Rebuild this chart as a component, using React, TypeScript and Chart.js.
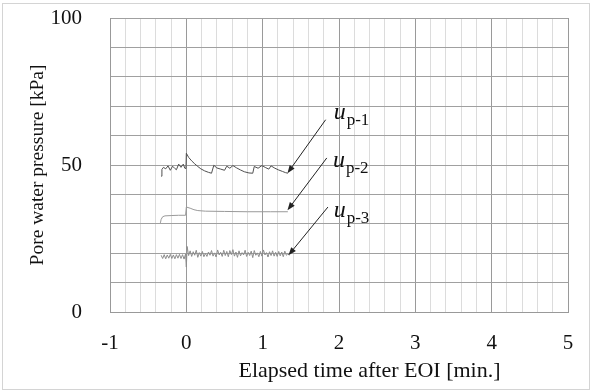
import { useEffect, useRef } from "react";
import { Chart, registerables } from "chart.js";

Chart.register(...registerables);

// Pore water pressure records around the end of injection (EOI)
const up1Time = [
  -0.33, -0.32, -0.3, -0.27, -0.24, -0.21, -0.18, -0.15, -0.13, -0.1, -0.07, -0.04, -0.02, -0.005,
  0.0, 0.03, 0.07, 0.11, 0.15, 0.19, 0.24, 0.29, 0.33, 0.36, 0.4, 0.45, 0.5, 0.53, 0.57, 0.61,
  0.66, 0.71, 0.76, 0.82, 0.87, 0.89, 0.94, 0.99, 1.04, 1.08, 1.11, 1.16, 1.21, 1.26, 1.3, 1.33,
];
const up1Pressure = [
  46.2, 48.5, 49.2, 48.7, 49.7, 48.2, 49.6, 48.8, 48.4, 50.3, 49.2, 50.3, 48.9, 48.8,
  54.0, 52.6, 51.4, 50.4, 49.5, 48.7, 48.0, 47.5, 47.2, 49.9, 49.0, 48.6, 48.2, 49.6, 48.9, 49.8,
  49.0, 48.3, 47.7, 47.3, 47.2, 49.5, 48.9, 49.8, 49.1, 48.6, 49.7, 48.9, 48.3, 47.8, 47.4, 47.2,
];

const up2Time = [-0.34, -0.33, -0.31, -0.28, -0.2, -0.1, -0.01, 0.0, 0.05, 0.1, 0.15, 0.25, 0.5, 0.8, 1.1, 1.33];
const up2Pressure = [30.3, 31.5, 32.4, 32.7, 32.8, 32.9, 32.9, 35.7, 35.3, 34.8, 34.5, 34.3, 34.2, 34.1, 34.1, 34.1];

const up3Time = [
  -0.33, -0.31, -0.29, -0.27, -0.25, -0.23, -0.21, -0.19, -0.17, -0.15, -0.13, -0.11, -0.09, -0.07, -0.05, -0.03, -0.01,
  0.0, 0.01, 0.03, 0.05, 0.07, 0.09, 0.11, 0.13, 0.15, 0.17, 0.19, 0.21, 0.23, 0.25, 0.27, 0.29, 0.31, 0.33, 0.35,
  0.37, 0.39, 0.41, 0.43, 0.45, 0.47, 0.49, 0.51, 0.53, 0.55, 0.57, 0.59, 0.61, 0.63, 0.65, 0.67, 0.69, 0.71, 0.73,
  0.75, 0.77, 0.79, 0.81, 0.83, 0.85, 0.87, 0.89, 0.91, 0.93, 0.95, 0.97, 0.99, 1.01, 1.03, 1.05, 1.07, 1.09, 1.11,
  1.13, 1.15, 1.17, 1.19, 1.21, 1.23, 1.25, 1.27, 1.29, 1.31, 1.33, 1.35,
];
const up3Pressure = [
  19.3, 18.2, 19.5, 18.1, 19.4, 18.3, 19.6, 18.2, 19.4, 18.1, 19.5, 18.3, 19.6, 18.2, 19.5, 18.0, 19.7,
  15.3, 22.3, 19.2, 20.8, 18.9, 20.5, 19.3, 21.0, 18.6, 20.2, 19.0, 20.6, 18.8, 19.9, 18.9, 20.4, 19.3, 20.9, 19.0,
  20.1, 18.7, 21.1, 19.4, 20.3, 18.9, 21.0, 19.2, 20.6, 18.8, 20.9, 19.5, 21.2, 19.0, 20.4, 18.6, 20.8, 19.1, 20.2,
  19.4, 21.0, 18.9, 20.3, 19.2, 20.7, 18.5, 20.9, 19.3, 20.1, 18.8, 20.6, 19.0, 21.1, 19.4, 20.2, 18.7, 20.5, 19.2,
  20.8, 19.0, 20.3, 18.9, 20.6, 19.1, 20.4, 18.8, 20.7, 19.3, 19.8, 19.3,
];

// Callout labels (u_p-1 .. u_p-3) and their leader arrows, in data units
const calloutSubscripts = ["p-1", "p-2", "p-3"];
const calloutLabelX = [1.93, 1.92, 1.93];
const calloutLabelY = [65.7, 49.3, 32.3];
const arrowFromX = [1.825, 1.84, 1.855];
const arrowFromY = [65.4, 52.4, 35.7];
const arrowToX = [1.325, 1.325, 1.338];
const arrowToY = [47.2, 34.6, 19.3];

const xTitle = "Elapsed time after EOI [min.]";
const yTitle = "Pore water pressure [kPa]";

const SERIF = "'Liberation Serif', 'Times New Roman', serif";

const isInteger = (v: number) => Math.abs(v - Math.round(v)) < 1e-6;

const overlayPlugin = {
  id: "overlay",
  beforeDraw(chart: any) {
    const { ctx, width, height } = chart;
    ctx.save();
    ctx.fillStyle = "#ffffff";
    ctx.fillRect(0, 0, width, height);
    ctx.strokeStyle = "#d4d4d4";
    ctx.lineWidth = 1;
    ctx.strokeRect(2.5, 3.5, width - 5, height - 6);
    ctx.restore();
  },
  afterDatasetsDraw(chart: any) {
    const { ctx } = chart;
    const xs = chart.scales.x;
    const ys = chart.scales.y;
    ctx.save();
    for (let i = 0; i < calloutSubscripts.length; i++) {
      const fx = xs.getPixelForValue(arrowFromX[i]);
      const fy = ys.getPixelForValue(arrowFromY[i]);
      const tx = xs.getPixelForValue(arrowToX[i]);
      const ty = ys.getPixelForValue(arrowToY[i]);
      const ang = Math.atan2(ty - fy, tx - fx);
      const head = 8;
      const half = 3;
      ctx.strokeStyle = "#222";
      ctx.lineWidth = 1;
      ctx.beginPath();
      ctx.moveTo(fx, fy);
      ctx.lineTo(tx - Math.cos(ang) * (head - 1), ty - Math.sin(ang) * (head - 1));
      ctx.stroke();
      ctx.fillStyle = "#222";
      ctx.beginPath();
      ctx.moveTo(tx, ty);
      ctx.lineTo(tx - Math.cos(ang) * head - Math.sin(ang) * half, ty - Math.sin(ang) * head + Math.cos(ang) * half);
      ctx.lineTo(tx - Math.cos(ang) * head + Math.sin(ang) * half, ty - Math.sin(ang) * head - Math.cos(ang) * half);
      ctx.closePath();
      ctx.fill();

      const lx = xs.getPixelForValue(calloutLabelX[i]);
      const ly = ys.getPixelForValue(calloutLabelY[i]);
      ctx.fillStyle = "#111";
      ctx.textAlign = "left";
      ctx.textBaseline = "alphabetic";
      ctx.font = `italic 24px ${SERIF}`;
      ctx.fillText("u", lx, ly);
      const w = ctx.measureText("u").width;
      ctx.font = `17px ${SERIF}`;
      ctx.fillText(calloutSubscripts[i], lx + w + 1, ly + 6);
    }
    ctx.restore();
  },
  afterDraw(chart: any) {
    // x-axis caption sits right of the plot centre
    const { ctx } = chart;
    ctx.save();
    ctx.fillStyle = "#111";
    ctx.textBaseline = "alphabetic";
    ctx.textAlign = "center";
    ctx.font = `22px ${SERIF}`;
    ctx.fillText(xTitle, 369.5, 376.5);
    ctx.restore();
  },
};

export default function App() {
  const canvasRef = useRef<HTMLCanvasElement | null>(null);

  useEffect(() => {
    const canvas = canvasRef.current;
    if (!canvas) return;
    const toPoints = (xs: number[], ys: number[]) => xs.map((x, i) => ({ x, y: ys[i] }));
    const chart = new Chart(canvas, {
      type: "line",
      data: {
        datasets: [
          {
            label: "u p-1",
            data: toPoints(up1Time, up1Pressure),
            borderColor: "#505050",
            borderWidth: 1,
            pointRadius: 0,
            tension: 0,
          },
          {
            label: "u p-2",
            data: toPoints(up2Time, up2Pressure),
            borderColor: "#9a9a9a",
            borderWidth: 1,
            pointRadius: 0,
            tension: 0,
          },
          {
            label: "u p-3",
            data: toPoints(up3Time, up3Pressure),
            borderColor: "#8c8c8c",
            borderWidth: 1,
            pointRadius: 0,
            tension: 0,
          },
        ],
      },
      options: {
        responsive: false,
        animation: false,
        events: [],
        layout: { autoPadding: false, padding: { top: 18, right: 24, bottom: 0, left: 0 } },
        plugins: {
          legend: { display: false },
          tooltip: { enabled: false },
        },
        scales: {
          x: {
            type: "linear",
            min: -1,
            max: 5,
            afterFit: (scale: any) => {
              scale.height = 80;
              scale.paddingLeft = 0;
              scale.paddingRight = 0;
            },
            border: { display: true, color: "#999999", width: 1 },
            grid: {
              drawTicks: false,
              lineWidth: 1,
              color: (c: any) => (isInteger(c.tick.value) ? "#9a9a9a" : "#dcdcdc"),
            },
            ticks: {
              stepSize: 0.2,
              autoSkip: false,
              maxRotation: 0,
              padding: 19,
              color: "#111",
              font: { family: SERIF, size: 21 },
              callback: (v: any) => (isInteger(Number(v)) ? String(Math.round(Number(v))) : ""),
            },
          },
          y: {
            type: "linear",
            min: 0,
            max: 100,
            afterFit: (scale: any) => {
              scale.width = 110;
              scale.paddingTop = 0;
              scale.paddingBottom = 0;
            },
            title: {
              display: true,
              text: yTitle,
              color: "#111",
              font: { family: SERIF, size: 19.5 },
              padding: { top: 26, bottom: 0 },
            },
            border: { display: true, color: "#999999", width: 1 },
            grid: {
              drawTicks: false,
              lineWidth: 1,
              color: "#a0a0a0",
            },
            ticks: {
              stepSize: 10,
              autoSkip: false,
              padding: 28,
              color: "#111",
              font: { family: SERIF, size: 21 },
              callback: (v: any) => (Number(v) % 50 === 0 ? String(v) : ""),
            },
          },
        },
      },
      plugins: [overlayPlugin],
    });
    return () => chart.destroy();
  }, []);

  return (
    <div style={{ position: "absolute", left: 0, top: 0, width: 592, height: 392, background: "#fff" }}>
      <canvas ref={canvasRef} width={592} height={392} style={{ display: "block", width: 592, height: 392 }} />
    </div>
  );
}
